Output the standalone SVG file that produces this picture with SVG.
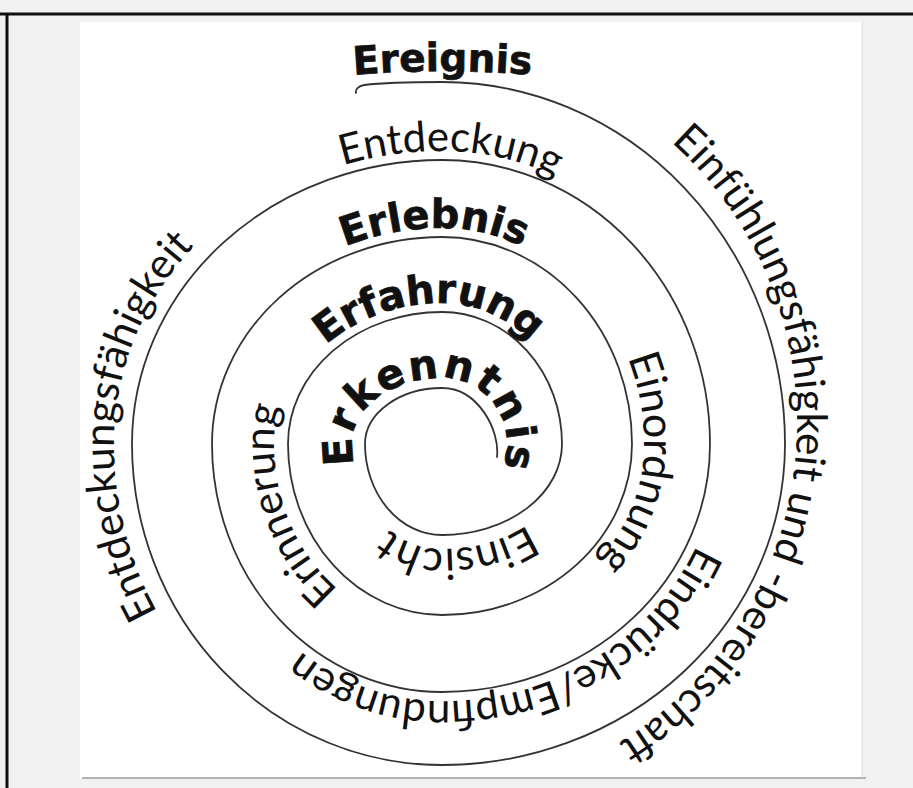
<svg xmlns="http://www.w3.org/2000/svg" xmlns:xlink="http://www.w3.org/1999/xlink" width="913" height="788" viewBox="0 0 913 788">
<style>
.bg{fill:#f1f1f1}
.paper{fill:#ffffff}
.frame{stroke:#111;fill:none}
.spiral{fill:none;stroke:#333;stroke-width:1.8;stroke-linecap:round}
.reg{font-family:Lato,"Open Sans","DejaVu Sans",sans-serif;font-weight:400;fill:#111}
.bold{font-family:"DejaVu Sans",Lato,sans-serif;font-weight:700;fill:#111;stroke:#111;stroke-width:0.7}
</style>
<defs>
<path id="p-ereignis" d="M 340,76 A 1100 1100 0 0 1 545,76"/>
<path id="p-entdeckung" d="M 307,178.5 A 319 293 0 0 1 442,151 A 277 293 0 0 1 588.8,195.5"/>
<path id="p-erlebnis" d="M 304.8,267.1 A 239 216 0 0 1 442,228 A 199 216 0 0 1 582.7,291.3"/>
<path id="p-erfahrung" d="M 281.5,419.5 A 163 141 0 0 1 442,303 A 129 141 0 0 1 569,419.5"/>
<path id="p-erkenntnis" d="M 357.5,475 A 90 90 0 0 1 352,444 A 90 66 0 0 1 442,378 A 65 66 0 0 1 507,444 A 65 66 0 0 1 503,467"/>
<path id="p-einsicht" d="M 558,496.5 A 134 105 0 0 1 442,549 A 91 105 0 0 1 372.3,511.5"/>
<path id="p-erinnerung" d="M 371,611.6 A 168 185 0 0 1 274,444 A 168 146 0 0 1 296.5,371"/>
<path id="p-entdeckungsf" d="M 190.8,662 A 328 339 0 0 1 114,444 A 328 302 0 0 1 231.1,212.7"/>
<path id="p-einfuehlung" d="M 609,97.4 A 376 376 0 0 1 549.6,776.3"/>
<path id="p-einordnung" d="M 572,276 A 202 219 0 0 1 644,444 A 202 183 0 0 1 494.3,620.8"/>
<path id="p-eindruecke" d="M 714.8,488.7 A 277 257 0 0 1 442,701 A 239 257 0 0 1 258.9,609.2"/>
</defs>
<rect class="bg" x="0" y="0" width="913" height="788"/>
<rect class="paper" x="80" y="22" width="782" height="756"/>
<line x1="82" y1="778" x2="866" y2="778" stroke="#9a9a9a" stroke-width="1.5"/>
<line x1="862" y1="22" x2="862" y2="778" stroke="#dcdcdc" stroke-width="1"/>
<line class="frame" x1="0" y1="14" x2="913" y2="14" stroke-width="3"/>
<line class="frame" x1="7" y1="13" x2="7" y2="788" stroke-width="3"/>

<g id="connectors">
<path id="spiral" class="spiral" d="M 497,457 C 500,430 478,388 442,388
A 77 56 0 0 0 365,444
A 77 91 0 0 0 442,535
A 120 91 0 0 0 562,444
A 120 132 0 0 0 442,312
A 154 132 0 0 0 288,444
A 154 171 0 0 0 442,615
A 190 171 0 0 0 632,444
A 190 207 0 0 0 442,237
A 230 207 0 0 0 212,444
A 230 248 0 0 0 442,692
A 268 248 0 0 0 710,444
A 268 284 0 0 0 442,160
A 310 284 0 0 0 132,444
A 310 321 0 0 0 442,765
A 343 321 0 0 0 785,444
A 343 362 0 0 0 442,82
C 415,82 380,83 364,85 C 359,86 355,89 356,93"/>
</g>

<g id="ereignis"><text class="bold" font-size="39"><textPath xlink:href="#p-ereignis" startOffset="50%" text-anchor="middle">Ereignis</textPath></text></g>
<g id="entdeckung"><text class="reg" font-size="42"><textPath xlink:href="#p-entdeckung" startOffset="50%" text-anchor="middle">Entdeckung</textPath></text></g>
<g id="erlebnis"><text class="bold" font-size="40"><textPath xlink:href="#p-erlebnis" startOffset="45%" text-anchor="middle">Erlebnis</textPath></text></g>
<g id="erfahrung"><text class="bold" font-size="40"><textPath xlink:href="#p-erfahrung" startOffset="50%" text-anchor="middle">Erfahrung</textPath></text></g>
<g id="erkenntnis"><text class="bold" font-size="41" letter-spacing="2.5"><textPath xlink:href="#p-erkenntnis" startOffset="147" text-anchor="middle">Erkenntnis</textPath></text></g>
<g id="einsicht"><text class="reg" font-size="43"><textPath xlink:href="#p-einsicht" startOffset="54%" text-anchor="middle">Einsicht</textPath></text></g>
<g id="erinnerung"><text class="reg" font-size="42"><textPath xlink:href="#p-erinnerung" startOffset="50%" text-anchor="middle">Erinnerung</textPath></text></g>
<g id="entdeckungsfaehigkeit"><text class="reg" font-size="42"><textPath xlink:href="#p-entdeckungsf" startOffset="51%" text-anchor="middle">Entdeckungsfähigkeit</textPath></text></g>
<g id="einfuehlung"><text class="reg" font-size="42"><textPath xlink:href="#p-einfuehlung" startOffset="50%" text-anchor="middle">Einfühlungsfähigkeit und -bereitschaft</textPath></text></g>
<g id="einordnung"><text class="reg" font-size="43"><textPath xlink:href="#p-einordnung" startOffset="47.5%" text-anchor="middle">Einordnung</textPath></text></g>
<g id="eindruecke"><text class="reg" font-size="42"><textPath xlink:href="#p-eindruecke" startOffset="50%" text-anchor="middle">Eindrücke/Empfindungen</textPath></text></g>
</svg>
